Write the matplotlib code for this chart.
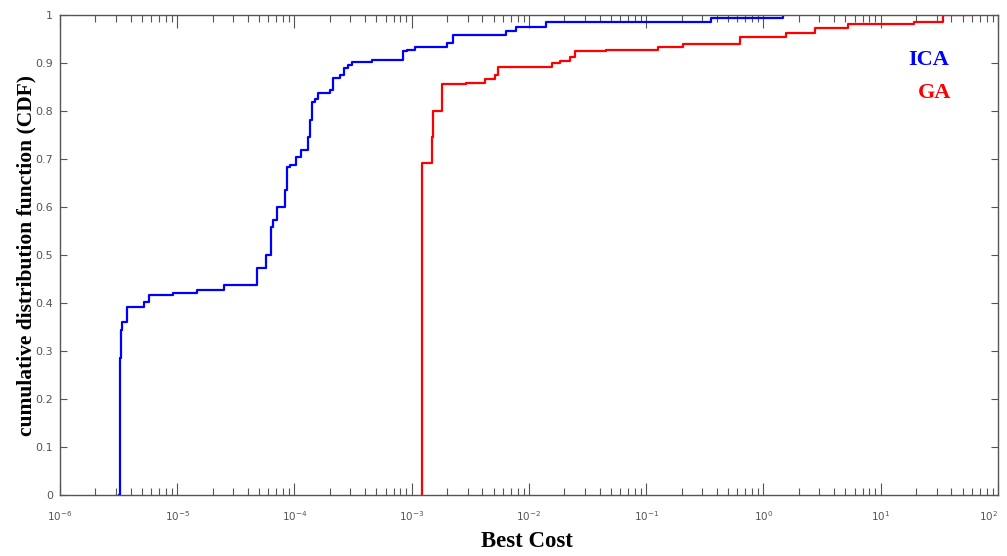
import numpy as np
import matplotlib
matplotlib.use("Agg")
import matplotlib.pyplot as plt
from matplotlib.ticker import LogLocator, MultipleLocator, NullFormatter, FuncFormatter

# step positions (best cost) and CDF value after each step
ica_cost = [3.20e-6, 3.22e-6, 3.27e-6, 3.31e-6, 3.40e-6, 3.70e-6, 5.23e-6, 5.77e-6,
            9.25e-6, 1.46e-5, 2.50e-5, 4.78e-5, 5.70e-5, 6.25e-5, 6.50e-5, 7.03e-5,
            8.28e-5, 8.57e-5, 9.14e-5, 1.04e-4, 1.13e-4, 1.31e-4, 1.35e-4, 1.40e-4,
            1.49e-4, 1.59e-4, 2.00e-4, 2.14e-4, 2.44e-4, 2.65e-4, 2.87e-4, 3.07e-4,
            4.54e-4, 8.35e-4, 9.03e-4, 1.06e-3, 1.98e-3, 2.23e-3, 6.34e-3, 7.82e-3,
            1.41e-2, 0.360, 1.47]
ica_cdf = [0.0, 0.233, 0.285, 0.344, 0.360, 0.392, 0.403, 0.417,
           0.421, 0.427, 0.4375, 0.472, 0.500, 0.559, 0.573, 0.600,
           0.635, 0.684, 0.6875, 0.705, 0.719, 0.746, 0.781, 0.819,
           0.826, 0.837, 0.844, 0.868, 0.875, 0.889, 0.896, 0.903,
           0.906, 0.924, 0.928, 0.934, 0.941, 0.958, 0.967, 0.974,
           0.986, 0.993, 1.0]

ga_cost = [1.23e-3, 1.235e-3, 1.48e-3, 1.52e-3, 1.80e-3, 2.93e-3, 4.20e-3, 5.11e-3,
           5.46e-3, 1.56e-2, 1.83e-2, 2.23e-2, 2.46e-2, 4.58e-2, 0.126, 0.206,
           0.627, 1.57, 2.73, 5.25, 19.4, 33.9, 59.2]
ga_cdf = [0.0, 0.691, 0.746, 0.799, 0.856, 0.859, 0.866, 0.875,
          0.892, 0.899, 0.905, 0.913, 0.924, 0.928, 0.934, 0.940,
          0.955, 0.962, 0.972, 0.981, 0.986, 1.0, 1.0]

decades = list(range(-6, 3))

fig = plt.figure(figsize=(10.07, 5.56), dpi=100)
ax = fig.add_axes([0.0596, 0.1097, 0.9314, 0.8633])

ax.plot(ica_cost, ica_cdf, drawstyle="steps-post", color="#0000ff", lw=1.6)
ax.plot(ga_cost, ga_cdf, drawstyle="steps-post", color="#ff0000", lw=1.6)

ax.set_xscale("log")
ax.set_xlim(1e-6, 1e2)
ax.set_ylim(0, 1)
ax.set_xticks([10.0 ** d for d in decades],
              [r"$\mathregular{10^{%d}}$" % d for d in decades])
ax.xaxis.set_minor_locator(LogLocator(base=10, subs=np.arange(2, 10), numticks=20))
ax.xaxis.set_minor_formatter(NullFormatter())
ax.yaxis.set_major_locator(MultipleLocator(0.1))
ax.yaxis.set_major_formatter(FuncFormatter(lambda v, p: f"{v:g}"))

gray = "#555555"
for s in ax.spines.values():
    s.set_color(gray)
    s.set_linewidth(1.0)
ax.tick_params(axis="x", which="major", direction="in", length=9, width=0.8,
               colors=gray, labelsize=7.5, top=True, pad=10)
ax.tick_params(axis="x", which="minor", direction="in", length=5, width=0.8,
               colors=gray, top=True)
ax.tick_params(axis="y", which="major", direction="in", length=5, width=0.8,
               colors=gray, labelsize=8, right=True, pad=5)

# keep the last label inside the canvas
ax.get_xticklabels()[-1].set_ha("right")

serif = ["Liberation Serif", "DejaVu Serif"]
ax.set_xlabel("Best Cost", family=serif, fontweight="bold", fontsize=16.5)
ax.xaxis.set_label_coords(0.498, -0.075)
ax.xaxis.label.set_va("top")
ax.set_ylabel("cumulative distribution function (CDF)", family=serif,
              fontweight="bold", fontsize=15.5)
ax.yaxis.set_label_coords(-0.025, 0.5)

ax.text(0.926, 0.906, "ICA", transform=ax.transAxes, ha="center", va="center",
        family=serif, fontweight="bold", fontsize=16, color="#0000ff")
ax.text(0.932, 0.8375, "GA", transform=ax.transAxes, ha="center", va="center",
        family=serif, fontweight="bold", fontsize=16, color="#ff0000")

fig.savefig("out.png", dpi=100)
